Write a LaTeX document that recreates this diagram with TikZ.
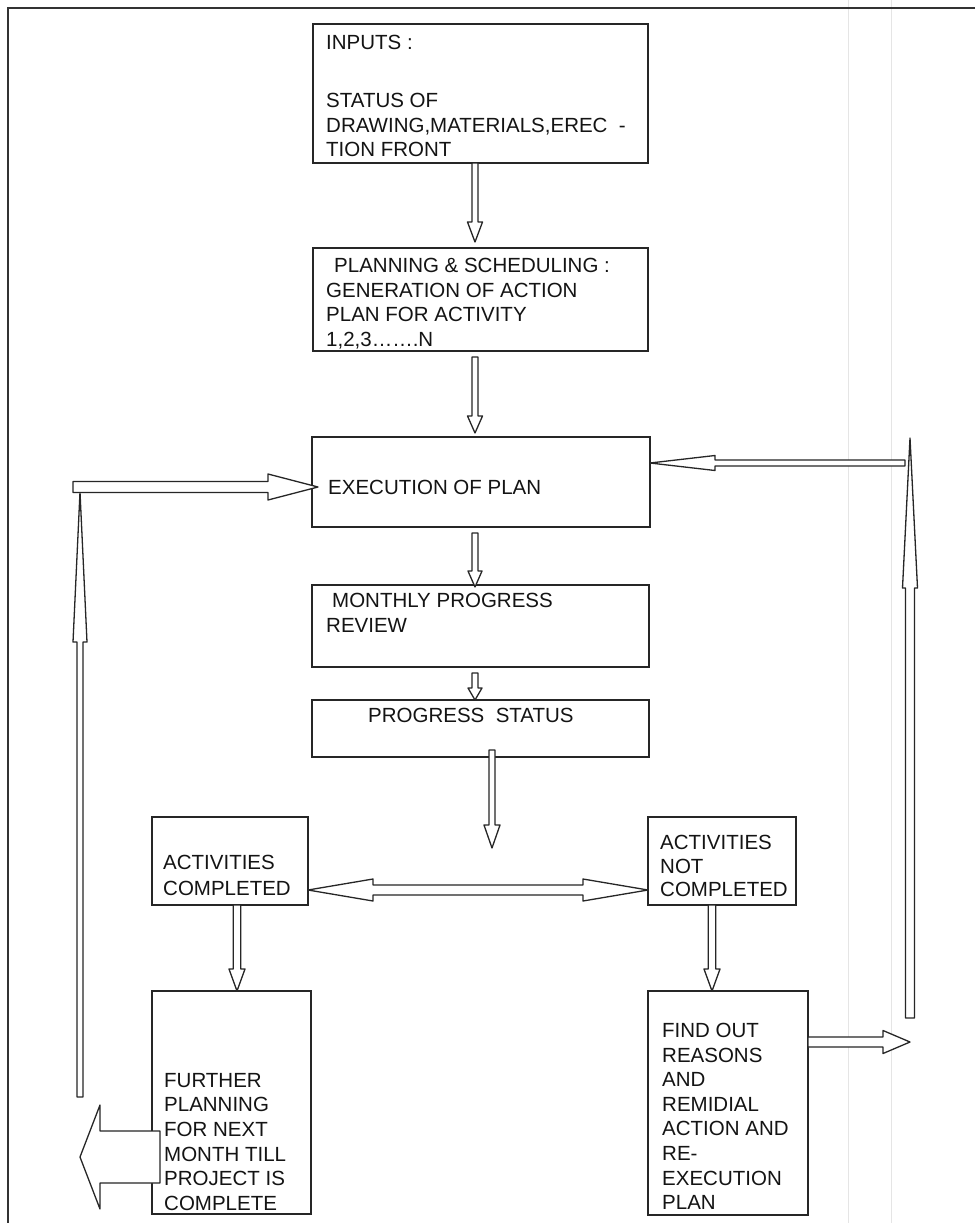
\documentclass[tikz,border=0pt]{standalone}
\usepackage{fontspec}
\setmainfont{Liberation Sans}
\usetikzlibrary{calc}

\tikzset{
  box/.style={draw=black!85, line width=1.5pt, rectangle, inner sep=0pt, outer sep=0pt},
  txt/.style={font=\fontsize{20.5}{24.6}\selectfont, align=left, inner sep=0pt,
              anchor=north west, text=black!92},
  hollow/.style={draw=black!85, fill=white, line width=1.3pt, line join=round},
  frame/.style={draw=black!80, line width=2pt},
  crease/.style={draw=black!10, line width=0.8pt},
}

% Block arrow with an outlined shaft and head.
% #1 tail, #2 tip, #3 shaft half-width, #4 head half-width, #5 head length
\newcommand\hollowarrow[5]{%
  \filldraw[hollow] let \p1=#1, \p2=#2,
      \n1={veclen(\x2-\x1,\y2-\y1)},
      \n2={(\x2-\x1)/\n1}, \n3={(\y2-\y1)/\n1} in
    ({\x1-(#3)*(\n3)},{\y1+(#3)*(\n2)})
 -- ({\x2-(#5)*(\n2)-(#3)*(\n3)},{\y2-(#5)*(\n3)+(#3)*(\n2)})
 -- ({\x2-(#5)*(\n2)-(#4)*(\n3)},{\y2-(#5)*(\n3)+(#4)*(\n2)})
 -- (\p2)
 -- ({\x2-(#5)*(\n2)+(#4)*(\n3)},{\y2-(#5)*(\n3)-(#4)*(\n2)})
 -- ({\x2-(#5)*(\n2)+(#3)*(\n3)},{\y2-(#5)*(\n3)-(#3)*(\n2)})
 -- ({\x1+(#3)*(\n3)},{\y1-(#3)*(\n2)}) -- cycle;}

% Block arrow with a head at both ends
\newcommand\hollowdouble[5]{%
  \filldraw[hollow] let \p1=#1, \p2=#2,
      \n1={veclen(\x2-\x1,\y2-\y1)},
      \n2={(\x2-\x1)/\n1}, \n3={(\y2-\y1)/\n1} in
    (\p1)
 -- ({\x1+(#5)*(\n2)-(#4)*(\n3)},{\y1+(#5)*(\n3)+(#4)*(\n2)})
 -- ({\x1+(#5)*(\n2)-(#3)*(\n3)},{\y1+(#5)*(\n3)+(#3)*(\n2)})
 -- ({\x2-(#5)*(\n2)-(#3)*(\n3)},{\y2-(#5)*(\n3)+(#3)*(\n2)})
 -- ({\x2-(#5)*(\n2)-(#4)*(\n3)},{\y2-(#5)*(\n3)+(#4)*(\n2)})
 -- (\p2)
 -- ({\x2-(#5)*(\n2)+(#4)*(\n3)},{\y2-(#5)*(\n3)-(#4)*(\n2)})
 -- ({\x2-(#5)*(\n2)+(#3)*(\n3)},{\y2-(#5)*(\n3)-(#3)*(\n2)})
 -- ({\x1+(#5)*(\n2)+(#3)*(\n3)},{\y1+(#5)*(\n3)-(#3)*(\n2)})
 -- ({\x1+(#5)*(\n2)+(#4)*(\n3)},{\y1+(#5)*(\n3)-(#4)*(\n2)})
 -- cycle;}

\begin{document}
\begin{tikzpicture}[x=1pt,y=1pt]
\useasboundingbox (0,0) rectangle (975,-1223);
\fill[white] (0,0) rectangle (975,-1223);

% page creases and frame
\draw[crease] (848,0) -- (848,-1223);
\draw[crease] (891,0) -- (891,-1223);
\draw[frame] (975,-8) -- (8,-8) -- (8,-1223);

% boxes
\node[box, minimum width=335pt, minimum height=139pt] (inp)   at (480.5,-93.5)  {};
\node[box, minimum width=335pt, minimum height=103pt] (plan)  at (480.5,-299.5) {};
\node[box, minimum width=338pt, minimum height=90pt]  (exec)  at (481,-482)     {};
\node[box, minimum width=337pt, minimum height=82pt]  (mon)   at (480.5,-626)   {};
\node[box, minimum width=337pt, minimum height=57pt]  (stat)  at (480.5,-728.5) {};
\node[box, minimum width=156pt, minimum height=88pt]  (acomp) at (230,-861)     {};
\node[box, minimum width=148pt, minimum height=88pt]  (anot)  at (722,-861)     {};
\node[box, minimum width=159pt, minimum height=223pt] (fplan) at (231.5,-1102.5){};
\node[box, minimum width=160pt, minimum height=224pt] (find)  at (728,-1103)    {};

% free ends of the loop arrows
\coordinate (pst)   at (492,-848);
\coordinate (rarr)  at (910,-1042);
\coordinate (rbot)  at (910,-1018);
\coordinate (rtop)  at (910,-438);
\coordinate (rjoin) at (905,-463);
\coordinate (lbot)  at (80,-1097);
\coordinate (ltop)  at (80,-492);
\coordinate (ljoin) at (73,-487);
\coordinate (bigtip) at (80,-1157);

% main column
\hollowarrow{($(inp.south)+(-5.5,0)$)}{($(plan.north)+(-5.5,6)$)}{3}{7.5}{20}
\hollowarrow{($(plan.south)+(-5.5,-6)$)}{($(exec.north)+(-6,4)$)}{3}{7.5}{17}
\hollowarrow{($(exec.south)+(-6,-6)$)}{($(mon.north)+(-5.5,-2)$)}{3}{7}{16}
\hollowarrow{($(mon.south)+(-5.5,-6)$)}{($(stat.north)+(-5.5,0)$)}{3}{7}{12}
\hollowarrow{($(stat.south)+(11.5,7)$)}{(pst)}{3}{8}{23}

% branch
\hollowdouble{($(acomp.east)+(0,-29)$)}{($(anot.west)+(0,-29)$)}{5}{11}{65}
\hollowarrow{($(acomp.south)+(7,0)$)}{($(fplan.north)+(5.5,0)$)}{3.8}{8}{22}
\hollowarrow{($(anot.south)+(-10,0)$)}{($(find.north)+(-16,0)$)}{3.8}{8}{22}

% right loop
\hollowarrow{($(find.east)+(0,61)$)}{(rarr)}{5}{11.5}{27}
\hollowarrow{(rbot)}{(rtop)}{4.5}{7.5}{150}
\hollowarrow{(rjoin)}{($(exec.east)+(0,19)$)}{3}{7.5}{65}

% left loop
\hollowarrow{(lbot)}{(ltop)}{3}{7}{150}
\hollowarrow{(ljoin)}{($(exec.west)+(6,-5)$)}{5.5}{13}{50}
\hollowarrow{($(fplan.west)+(8,-54.5)$)}{(bigtip)}{26}{52}{20}

% texts
\node[txt] (inpT) at (326,-35) {INPUTS :\\[33.4pt]STATUS OF\\DRAWING,MATERIALS,EREC~~-\\TION FRONT};
\node[txt] (planT) at (326,-258) {\hspace*{8pt}PLANNING \& SCHEDULING :\\GENERATION OF ACTION\\PLAN FOR ACTIVITY\\1,2,3…….N};
\node[txt] (execT) at (328,-480) {EXECUTION OF PLAN};
\node[txt] (monT) at (326,-593) {\hspace*{6pt}MONTHLY PROGRESS\\REVIEW};
\node[txt] (statT) at (368,-708) {PROGRESS~~STATUS};
\node[txt] (acompT) at (163,-855) {ACTIVITIES\\[1.4pt]COMPLETED};
\node[txt] (anotT) at (660,-835) {ACTIVITIES\\[-1pt]NOT\\[-1pt]COMPLETED};
\node[txt] (fplanT) at (164,-1073) {FURTHER\\PLANNING\\FOR NEXT\\MONTH TILL\\PROJECT IS\\COMPLETE};
\node[txt] (findT) at (662,-1023) {FIND OUT\\REASONS\\AND\\REMIDIAL\\ACTION AND\\RE-\\EXECUTION\\PLAN};
\end{tikzpicture}
\end{document}
